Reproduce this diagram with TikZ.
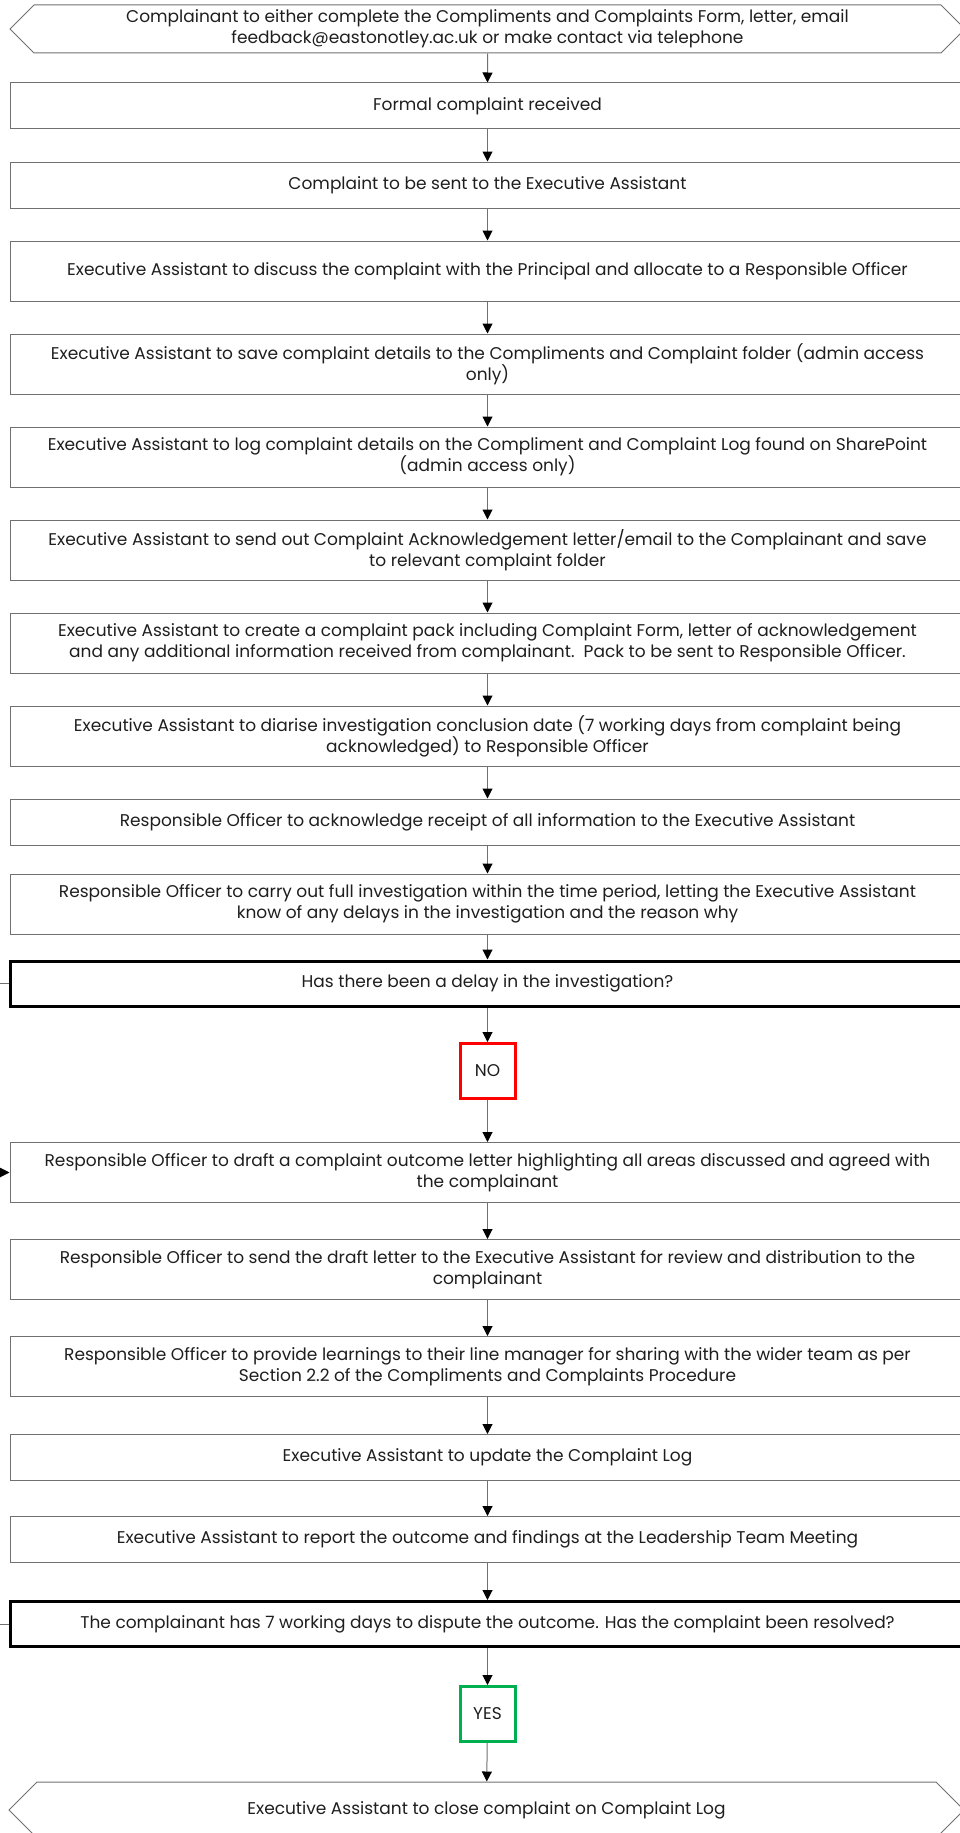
\documentclass[tikz,border=0pt]{standalone}
\usepackage{fontspec}
\setmainfont{Poppins}
\usepackage{tikz}
\usetikzlibrary{positioning, shapes.symbols, arrows.meta}
\definecolor{LineGrey}{RGB}{112, 112, 112}
\definecolor{TextDark}{RGB}{30, 30, 30}
\definecolor{NoRed}{RGB}{255, 0, 0}
\definecolor{YesGreen}{RGB}{0, 176, 80}

\tikzset{
  stepbox/.style={draw=LineGrey, line width=1pt, rectangle, minimum width=955pt, inner sep=0pt, align=center, text=TextDark, font=\fontsize{17}{21}\selectfont},
  onebox/.style={stepbox, minimum height=46pt},
  twobox/.style={stepbox, minimum height=60pt},
  askbox/.style={stepbox, draw=black, line width=3pt, minimum height=45pt},
  endbox/.style={stepbox, shape=signal, signal to=west and east, signal pointer angle=90},
  answer/.style={draw, line width=3pt, minimum width=55pt, minimum height=55pt, inner sep=0pt, text=TextDark, font=\fontsize{17}{21}\selectfont},
  flow/.style={draw=LineGrey, line width=1pt, -{Triangle[length=10pt, width=10pt, black]}}
}

\begin{document}
\begin{tikzpicture}[x=1pt, y=-1pt]
    \useasboundingbox (0,0) rectangle (960,1833);

    % Start
    \node[endbox, minimum height=48pt] (start) at (487.5,29) {Complainant to either complete the Compliments and Complaints Form, letter, email\\feedback@eastonotley.ac.uk or make contact via telephone};

    % Steps by the Executive Assistant
    \node[onebox] (received) at (487.5,106) {Formal complaint received};
    \node[onebox] (sent) at (487.5,185) {Complaint to be sent to the Executive Assistant};
    \node[twobox] (discuss) at (487.5,271) {Executive Assistant to discuss the complaint with the Principal and allocate to a Responsible Officer};
    \node[twobox] (save) at (487.5,364) {Executive Assistant to save complaint details to the Compliments and Complaint folder (admin access\\only)};
    \node[twobox] (log) at (487.5,457) {Executive Assistant to log complaint details on the Compliment and Complaint Log found on SharePoint\\(admin access only)};
    \node[twobox] (acksend) at (487.5,550) {Executive Assistant to send out Complaint Acknowledgement letter/email to the Complainant and save\\to relevant complaint folder};
    \node[twobox] (pack) at (487.5,643) {Executive Assistant to create a complaint pack including Complaint Form, letter of acknowledgement\\and any additional information received from complainant.\ \ Pack to be sent to Responsible Officer.};
    \node[twobox] (diarise) at (487.5,736) {Executive Assistant to diarise investigation conclusion date (7 working days from complaint being\\acknowledged) to Responsible Officer};

    % Investigation
    \node[onebox] (receipt) at (487.5,822) {Responsible Officer to acknowledge receipt of all information to the Executive Assistant};
    \node[twobox] (investigate) at (487.5,904) {Responsible Officer to carry out full investigation within the time period, letting the Executive Assistant\\know of any delays in the investigation and the reason why};
    \node[askbox] (delay) at (487.5,983.5) {Has there been a delay in the investigation?};
    \node[answer, draw=NoRed] (no) at (487.5,1071) {NO};

    % Outcome
    \node[twobox] (draft) at (487.5,1172.5) {Responsible Officer to draft a complaint outcome letter highlighting all areas discussed and agreed with\\the complainant};
    \node[twobox] (review) at (487.5,1269.5) {Responsible Officer to send the draft letter to the Executive Assistant for review and distribution to the\\complainant};
    \node[twobox] (learn) at (487.5,1366.5) {Responsible Officer to provide learnings to their line manager for sharing with the wider team as per\\Section 2.2 of the Compliments and Complaints Procedure};
    \node[onebox] (update) at (487.5,1457.5) {Executive Assistant to update the Complaint Log};
    \node[onebox] (report) at (487.5,1539.5) {Executive Assistant to report the outcome and findings at the Leadership Team Meeting};
    \node[askbox] (dispute) at (487.5,1624) {The complainant has 7 working days to dispute the outcome. Has the complaint been resolved?};
    \node[answer, draw=YesGreen] (yes) at (487.5,1714) {YES};

    % End
    \node[endbox, minimum height=56pt] (close) at (486.5,1810) {Executive Assistant to close complaint on Complaint Log};

    % Arrows down the page
    \draw[flow] (start) -- (received);
    \draw[flow] (received) -- (sent);
    \draw[flow] (sent) -- (discuss);
    \draw[flow] (discuss) -- (save);
    \draw[flow] (save) -- (log);
    \draw[flow] (log) -- (acksend);
    \draw[flow] (acksend) -- (pack);
    \draw[flow] (pack) -- (diarise);
    \draw[flow] (diarise) -- (receipt);
    \draw[flow] (receipt) -- (investigate);
    \draw[flow] (investigate) -- (delay);
    \draw[flow] (delay) -- (no);
    \draw[flow] (no) -- (draft);
    \draw[flow] (draft) -- (review);
    \draw[flow] (review) -- (learn);
    \draw[flow] (learn) -- (update);
    \draw[flow] (update) -- (report);
    \draw[flow] (report) -- (dispute);
    \draw[flow] (dispute) -- (yes);
    \draw[flow] (yes) -- (close);

    % Side links, cut at the page edge
    \coordinate (delayout) at (0,983.5);
    \coordinate (draftin) at (0,1172.5);
    \coordinate (disputeout) at (0,1624);
    \draw[LineGrey, line width=1pt] (delay.west) -- (delayout);
    \draw[flow] (draftin) -- (draft.west);
    \draw[LineGrey, line width=1pt] (dispute.west) -- (disputeout);
  \end{tikzpicture}
\end{document}
